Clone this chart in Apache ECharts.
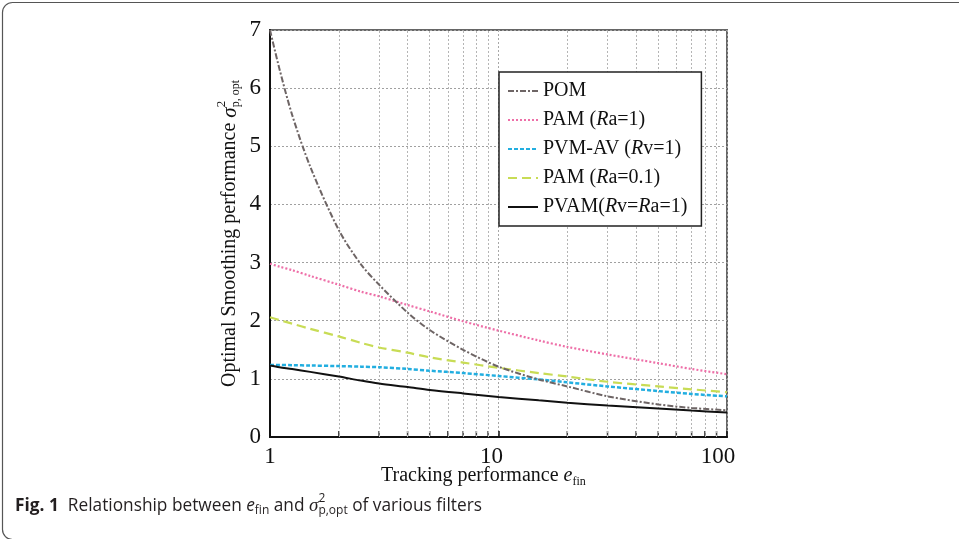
<!DOCTYPE html>
<html><head><meta charset="utf-8">
<script src="https://cdn.jsdelivr.net/npm/echarts@6/dist/echarts.min.js"></script>
<style>html,body{margin:0;padding:0;background:#fff}#c{width:959px;height:539px}</style>
</head><body><div id="c"></div>
<script>
// ---- data ----
const eVals    = [1, 1.1, 1.25, 1.5, 2, 2.5, 3, 4, 5, 7, 10, 15, 20, 30, 50, 70, 100];
const pom      = [7.0, 6.33, 5.54, 4.65, 3.56, 2.97, 2.62, 2.14, 1.84, 1.50, 1.21, 0.99, 0.87, 0.70, 0.56, 0.50, 0.46];
const pamRa1   = [2.98, 2.93, 2.87, 2.77, 2.62, 2.50, 2.42, 2.27, 2.16, 1.99, 1.83, 1.66, 1.55, 1.42, 1.27, 1.17, 1.08];
const pvmAv    = [1.24, 1.24, 1.235, 1.23, 1.22, 1.21, 1.20, 1.17, 1.14, 1.10, 1.05, 0.99, 0.94, 0.87, 0.79, 0.74, 0.70];
const pamRa01  = [2.06, 2.01, 1.95, 1.86, 1.73, 1.62, 1.54, 1.45, 1.37, 1.28, 1.19, 1.10, 1.04, 0.95, 0.87, 0.82, 0.77];
const pvam     = [1.23, 1.20, 1.17, 1.12, 1.04, 0.97, 0.92, 0.86, 0.81, 0.75, 0.69, 0.63, 0.59, 0.54, 0.49, 0.455, 0.42];
const minorX   = [2, 3, 4, 5, 6, 7, 8, 9, 20, 30, 40, 50, 60, 70, 80, 90];
const xTickLabels = ['1', '10', '100'];
const yTickLabels = ['0', '1', '2', '3', '4', '5', '6', '7'];
const seriesNames = ['POM', 'PAM (Ra=1)', 'PVM-AV (Rv=1)', 'PAM (Ra=0.1)', 'PVAM(Rv=Ra=1)'];

const SERIF = '"Liberation Serif", "Times New Roman", serif';
const SANS = '"Open Sans", "Noto Sans", sans-serif';

const cv = document.createElement('canvas').getContext('2d');
function tw(t, font){ cv.font = font; return cv.measureText(t).width; }

function layout(runs, fill){
  let x = 0, lastStart = 0, out = [];
  runs.forEach(r => {
    const w = tw(r.t, r.font);
    let sx = r.stack ? lastStart : x;
    out.push({type:'text', style:{text:r.t, font:r.font, fill:fill, x:sx, y:r.dy||0, verticalAlign:'middle', align:'left'}});
    if (r.stack) { x = Math.max(x, sx + w); } else { lastStart = sx; x = sx + w; }
  });
  return {children: out, width: x};
}

const yTitle = layout([
  {t:'Optimal Smoothing performance ', font:'20px ' + SERIF},
  {t:'σ', font:'italic 21px ' + SERIF},
  {t:'2', font:'13px ' + SERIF, dy:-8},
  {t:'p, opt', font:'12px ' + SERIF, dy:6, stack:true}
], '#111');
const xTitle = layout([
  {t:'Tracking performance ', font:'20px ' + SERIF},
  {t:'e', font:'italic 20px ' + SERIF},
  {t:'fin', font:'12px ' + SERIF, dy:6}
], '#111');
const caption = layout([
  {t:'Fig. 1', font:'bold 17.3px ' + SANS},
  {t:'  Relationship between ', font:'17.3px ' + SANS},
  {t:'e', font:'italic 17.3px ' + SANS},
  {t:'fin', font:'12px ' + SANS, dy:5},
  {t:' and ', font:'17.3px ' + SANS},
  {t:'σ', font:'italic 19px ' + SERIF},
  {t:'2', font:'12px ' + SANS, dy:-7},
  {t:'p,opt', font:'12px ' + SANS, dy:5, stack:true},
  {t:' of various filters', font:'17.3px ' + SANS}
], '#231f20');

const chart = echarts.init(document.getElementById('c'), null, {renderer:'canvas'});

const styles = [
  {color:'#6e6565', type:[6,2,2,2], width:2},
  {color:'#ee6fa8', type:[2,2], width:2.2},
  {color:'#22aee0', type:[4,2], width:2.5},
  {color:'#c8dc55', type:[9,5], width:2.2},
  {color:'#111111', type:'solid', width:2}
];
const dataSets = [pom, pamRa1, pvmAv, pamRa01, pvam];

const series = dataSets.map((d, i) => ({
  name: seriesNames[i], type:'line', smooth:0.3, symbol:'none',
  data: eVals.map((e, j) => [e, d[j]]),
  lineStyle: styles[i], itemStyle:{color: styles[i].color}, z: 5 + (i === 0 ? 1 : 0)
}));

series.push({
  name:'minor', type:'scatter', silent:true, z:3,
  data: minorX.map(v => [v, 0]),
  symbol:'rect', symbolSize:[1.5, 6], symbolOffset:[0, -3],
  itemStyle:{color:'#111'},
  markLine:{silent:true, symbol:'none', label:{show:false},
    lineStyle:{color:'#b5b5b5', type:[2,2], width:1},
    data: minorX.map(v => ({xAxis: v}))},
  tooltip:{show:false}
});

const legendFmt = {
  'POM':'{n|POM}',
  'PAM (Ra=1)':'{n|PAM (}{i|R}{n|a=1)}',
  'PVM-AV (Rv=1)':'{n|PVM-AV (}{i|R}{n|v=1)}',
  'PAM (Ra=0.1)':'{n|PAM (}{i|R}{n|a=0.1)}',
  'PVAM(Rv=Ra=1)':'{n|PVAM(}{i|R}{n|v=}{i|R}{n|a=1)}'
};

chart.setOption({
  animation:false,
  backgroundColor:'#fff',
  grid:{left:270, right:232, top:30, bottom:102, show:true, borderColor:'#666', borderWidth:2, backgroundColor:'transparent'},
  xAxis:{type:'log', logBase:10, min:1, max:100,
    axisLine:{lineStyle:{color:'#111', width:2}},
    axisTick:{show:true, inside:true, length:6, lineStyle:{color:'#111', width:1.5}},
    splitLine:{show:true, lineStyle:{color:'#a8a8a8', type:[2,2], width:1}},
    axisLabel:{margin:8, fontFamily:SERIF, fontSize:23, color:'#111',
      formatter: v => { const k = Math.round(Math.log10(v)); return '{l' + k + '|' + xTickLabels[k] + '}'; },
      rich:{l0:{fontFamily:SERIF, fontSize:23, color:'#111'},
            l1:{fontFamily:SERIF, fontSize:23, color:'#111', padding:[0,14,0,0]},
            l2:{fontFamily:SERIF, fontSize:23, color:'#111', padding:[0,18,0,0]}}}
  },
  yAxis:{type:'value', min:0, max:7, interval:1,
    axisLine:{show:true, lineStyle:{color:'#111', width:2}},
    axisTick:{show:false},
    splitLine:{show:true, lineStyle:{color:'#a0a0a0', type:[2,2], width:1}},
    axisLabel:{margin:9, fontFamily:SERIF, fontSize:23, color:'#111', formatter: v => yTickLabels[v]}
  },
  legend:{
    data: seriesNames, orient:'vertical', left:499, top:72, z:10,
    backgroundColor:'#fff', borderColor:'#222', borderWidth:1.5,
    padding:[9, 14, 9, 8], itemGap:9, itemWidth:30, itemHeight:14,
    itemStyle:{opacity:0},
    formatter: n => legendFmt[n],
    textStyle:{fontFamily:SERIF, fontSize:20, color:'#111',
      rich:{n:{fontFamily:SERIF, fontSize:20, color:'#111'}, i:{fontFamily:SERIF, fontSize:20, fontStyle:'italic', color:'#111'}}},
    selectedMode:false
  },
  graphic:[
    {type:'rect', silent:true, shape:{x:2.5, y:2.5, width:1000, height:537, r:10}, style:{fill:'none', stroke:'#555', lineWidth:1.2}, z:-1},
    {type:'group', x:230, y:233.5 + yTitle.width/2, rotation:Math.PI/2, children:yTitle.children},
    {type:'group', x:381, y:476, children:xTitle.children},
    {type:'group', x:15, y:506, children:caption.children}
  ],
  series: series
});
</script></body></html>
